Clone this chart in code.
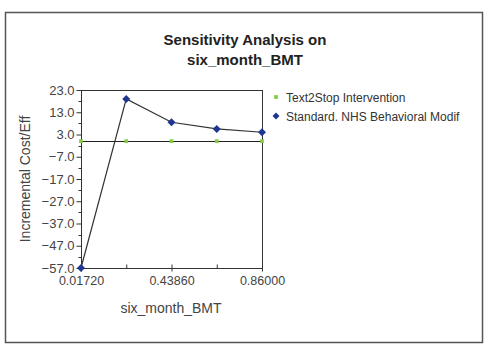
<!DOCTYPE html>
<html>
<head>
<meta charset="utf-8">
<script src="https://cdn.jsdelivr.net/npm/d3@7"></script>
<style>
  body { margin: 0; background: #fff; }
  svg { display: block; font-family: 'Liberation Sans', Arial, sans-serif; }
</style>
</head>
<body>
<div id="chart"></div>
<script>
// data
const xValues = [0.0172, 0.2279, 0.4386, 0.6493, 0.86]
const xLabels = ['0.01720', '', '0.43860', '', '0.86000']
const text2stop = [0, 0, 0, 0, 0]
const standardNhs = [-57, 19, 8.5, 5.5, 4]
const yTicks = [23, 13, 3, -7, -17, -27, -37, -47, -57]
const seriesNames = ['Text2Stop Intervention', 'Standard. NHS Behavioral Modif']

const width = 488
const height = 358
const margin = { top: 90, left: 81, right: 226, bottom: 90 }

const svg = d3
  .select('#chart')
  .append('svg')
  .attr('width', width)
  .attr('height', height)

// outer frame
svg
  .append('rect')
  .attr('x', 5.5)
  .attr('y', 12.5)
  .attr('width', 477)
  .attr('height', 330)
  .attr('fill', 'none')
  .attr('stroke', '#555')
  .attr('stroke-width', 1.5)

// title
svg
  .append('text')
  .attr('x', 245)
  .attr('y', 45)
  .attr('text-anchor', 'middle')
  .style('font-size', '15px')
  .style('font-weight', 'bold')
  .attr('fill', '#222')
  .selectAll('tspan')
  .data(['Sensitivity Analysis on', 'six_month_BMT'])
  .enter()
  .append('tspan')
  .attr('x', 245)
  .attr('dy', (d, i) => (i === 0 ? 0 : 20))
  .text(d => d)

const xScale = d3
  .scaleLinear()
  .domain([0.0172, 0.86])
  .range([margin.left, width - margin.right])

const yScale = d3
  .scaleLinear()
  .domain([-57, 23])
  .range([height - margin.bottom, margin.top])

const plotW = xScale.range()[1] - xScale.range()[0]
const plotH = yScale.range()[0] - yScale.range()[1]

// plot box
svg
  .append('rect')
  .attr('x', margin.left + 0.5)
  .attr('y', margin.top + 0.5)
  .attr('width', plotW)
  .attr('height', plotH)
  .attr('fill', 'none')
  .attr('stroke', '#333')

// y axis
const yAxis = d3
  .axisLeft(yScale)
  .tickValues(yTicks)
  .tickSize(5)
  .tickPadding(2)
  .tickFormat(d3.format('.1f'))

const yG = svg
  .append('g')
  .attr('transform', `translate(${margin.left + 0.5},0)`)
  .call(yAxis)
yG.select('.domain').remove()
yG.selectAll('line').attr('stroke', '#333')
yG
  .selectAll('text')
  .style('font-size', '13px')
  .style('font-family', "'Liberation Sans', Arial, sans-serif")
  .attr('fill', '#444')

// minor y ticks
svg
  .append('g')
  .selectAll('line')
  .data(d3.range(-52, 23, 10))
  .enter()
  .append('line')
  .attr('x1', margin.left + 0.5)
  .attr('x2', margin.left - 2.5)
  .attr('y1', d => Math.round(yScale(d)) + 0.5)
  .attr('y2', d => Math.round(yScale(d)) + 0.5)
  .attr('stroke', '#333')

// x axis
const xAxis = d3
  .axisBottom(xScale)
  .tickValues(xValues)
  .tickSize(3)
  .tickPadding(5)
  .tickFormat((d, i) => xLabels[i])

const xG = svg
  .append('g')
  .attr('transform', `translate(0,${height - margin.bottom + 0.5})`)
  .call(xAxis)
xG.select('.domain').remove()
xG
  .selectAll('.tick line')
  .attr('y1', -4)
  .attr('y2', (d, i) => (xLabels[i] ? 3 : 0))
  .attr('stroke', '#333')
xG
  .selectAll('text')
  .style('font-size', '12.5px')
  .style('font-family', "'Liberation Sans', Arial, sans-serif")
  .attr('fill', '#444')

// axis titles
svg
  .append('text')
  .text('six_month_BMT')
  .attr('x', 171)
  .attr('y', 313)
  .attr('text-anchor', 'middle')
  .style('font-size', '14px')
  .attr('fill', '#444')

svg
  .append('text')
  .text('Incremental Cost/Eff')
  .attr('transform', 'translate(30,179) rotate(-90)')
  .attr('text-anchor', 'middle')
  .style('font-size', '14px')
  .attr('fill', '#444')

// zero line
svg
  .append('line')
  .attr('x1', margin.left)
  .attr('x2', margin.left + plotW)
  .attr('y1', Math.round(yScale(0)) + 0.5)
  .attr('y2', Math.round(yScale(0)) + 0.5)
  .attr('stroke', '#222')

// series line
const line = d3
  .line()
  .x((d, i) => xScale(xValues[i]))
  .y(d => yScale(d))

svg
  .append('path')
  .datum(standardNhs)
  .attr('d', line)
  .attr('fill', 'none')
  .attr('stroke', '#333')
  .attr('stroke-width', 1.2)

// square turned 45 degrees makes the diamond
const diamond = d3.symbol().type(d3.symbolSquare).size(32)
const dot = d3.symbol().type(d3.symbolSquare).size(14)

// green points
svg
  .append('g')
  .selectAll('path')
  .data(text2stop)
  .enter()
  .append('path')
  .attr('d', dot)
  .attr('transform', (d, i) => `translate(${xScale(xValues[i])},${yScale(d)})`)
  .attr('fill', '#84cc45')

// blue diamonds
svg
  .append('g')
  .selectAll('path')
  .data(standardNhs)
  .enter()
  .append('path')
  .attr('d', diamond)
  .attr('transform', (d, i) => `translate(${xScale(xValues[i])},${yScale(d)}) rotate(45)`)
  .attr('fill', '#1f3590')

// legend
const legend = svg
  .append('g')
  .selectAll('g')
  .data(seriesNames)
  .enter()
  .append('g')
  .attr('transform', (d, i) => `translate(276,${97 + i * 19})`)

legend
  .append('path')
  .attr('d', (d, i) => (i === 0 ? dot() : diamond.size(24)()))
  .attr('transform', (d, i) => (i === 0 ? null : 'rotate(45)'))
  .attr('fill', (d, i) => (i === 0 ? '#84cc45' : '#1f3590'))

legend
  .append('text')
  .text(d => d)
  .attr('x', 10)
  .attr('y', 5)
  .style('font-size', '12px')
  .attr('fill', '#333')
</script>
</body>
</html>
